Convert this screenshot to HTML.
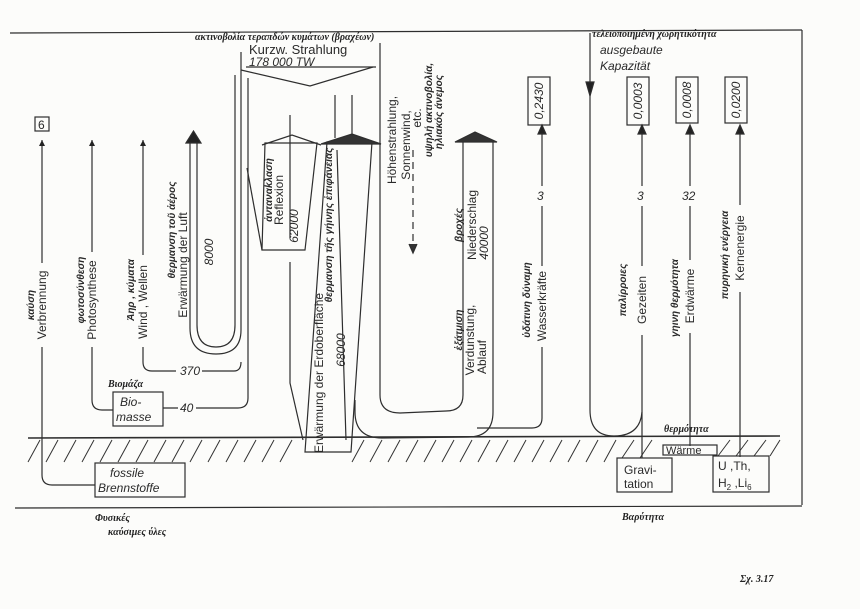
<!DOCTYPE html>
<html><head><meta charset="utf-8"><style>
html,body{margin:0;padding:0;background:#fcfcfa;}
svg{display:block;}
text{font-family:"Liberation Sans",sans-serif;fill:#2a2a2a;}
.g{font-family:"Liberation Serif","DejaVu Serif",serif;font-style:italic;font-weight:bold;font-size:10px;fill:#222;}
.l{font-size:12px;}
</style></head><body>
<svg width="860" height="609" viewBox="0 0 860 609" xmlns="http://www.w3.org/2000/svg">
<defs>
<marker id="a" viewBox="0 0 10 10" refX="5" refY="0" markerWidth="6" markerHeight="10" orient="0" markerUnits="userSpaceOnUse"><path d="M0,10 L5,0 L10,10 Z" fill="#222"/></marker>
</defs>
<g stroke="#2e2e2e" stroke-width="1.2" fill="none">
<line x1="10" y1="33" x2="802" y2="30"/>
<line x1="802" y1="30" x2="802" y2="505"/>
<line x1="15" y1="508" x2="802" y2="506"/>
<line x1="28" y1="438" x2="780" y2="436" stroke-width="1.6"/>
</g>
<g stroke="#333" stroke-width="1">
<path d="M40,440 L28,462 M58,440 L46,462 M76,440 L64,462 M94,440 L82,462 M112,440 L100,462 M130,440 L118,462 M148,440 L136,462 M166,440 L154,462 M184,440 L172,462 M202,440 L190,462 M220,440 L208,462 M238,440 L226,462 M256,440 L244,462 M274,440 L262,462 M292,440 L280,462 M364,440 L352,462 M382,440 L370,462 M400,440 L388,462 M418,440 L406,462 M436,440 L424,462 M454,440 L442,462 M472,440 L460,462 M490,440 L478,462 M508,440 L496,462 M526,440 L514,462 M544,440 L532,462 M562,440 L550,462 M580,440 L568,462 M598,440 L586,462 M616,440 L604,462 M634,440 L622,458 M652,440 L640,458 M730,440 L718,456 M748,440 L736,456 M766,440 L754,456 M780,440 L770,456"/>
</g>
<g stroke="#2e2e2e" stroke-width="1.2" fill="none">
<line x1="42" y1="263" x2="42" y2="140" marker-end="url(#a)"/>
<path d="M42,347 L42,475 Q42,485 52,485 L95,485"/>
<rect x="35" y="117" width="14" height="14"/>
<line x1="92" y1="252" x2="92" y2="140" marker-end="url(#a)"/>
<path d="M92,347 L92,400 Q92,410 102,410 L113,410"/>
<rect x="113" y="392" width="50" height="34"/>
<path d="M163,408 L178,408 M196,408 L238,408 Q248,408 248,398 L248,78"/>
<line x1="143" y1="255" x2="143" y2="140" marker-end="url(#a)"/>
<path d="M143,347 L143,362 Q143,371 152,371 L176,371 M202,371 L234,371 Q241,371 241,362"/>
<path d="M190,140 L190,328 Q190,354 216,354 Q241,354 241,330 L241,52"/>
<path d="M197,140 L197,325 Q197,347 216,347 Q235,347 235,325 L235,75"/>
<path d="M186,143 L193.5,131 L201,143 Z" fill="#222"/>
<path d="M241,70 L310,86 L373,67"/>
<line x1="246" y1="67" x2="376" y2="67"/>
<path d="M265,143 L317,143 L305,250 L262,250 Z"/>
<path d="M262,145 L292,135 L321,145"/>
<path d="M247,168 L262,250"/>
<path d="M290,115 L290,238 M290,262 L290,383 L303,440"/>
<path d="M327,142 L372,142 L351,452 L305,452 Z"/>
<path d="M321,144 L352,134 L381,144 Z" fill="#333"/>
<path d="M335,95 L335,138 M352,95 L352,136 M337,150 L346,440"/>
<path d="M380,43 L380,395 Q380,413 400,413 L446,411 Q463,411 463,395 L463,141"/>
<path d="M355,400 L355,412 Q355,438 382,438 L468,437 Q493,437 493,412 L493,141"/>
<path d="M455,142 L475,132 L497,142 Z" fill="#333"/>
<line x1="413" y1="150" x2="413" y2="246" stroke-dasharray="7,5"/>
<path d="M409,244 L413,253 L417,244" fill="#333"/>
<path d="M477,428 L532,428 Q542,428 542,418 L542,347 M542,266 L542,206 M542,186 L542,130"/>
<path d="M538,134 L542,125 L546,134 Z" fill="#222"/>
<rect x="528" y="77" width="22" height="48"/>
<line x1="590" y1="33" x2="590" y2="410"/>
<path d="M586,82 L590,96 L594,82 Z" fill="#222"/>
<path d="M590,410 Q590,436 614,436 Q640,436 642,412"/>
<path d="M642,458 L642,335 M642,266 L642,206 M642,186 L642,130"/>
<path d="M638,134 L642,125 L646,134 Z" fill="#222"/>
<rect x="627" y="77" width="22" height="48"/>
<rect x="617" y="458" width="55" height="34"/>
<path d="M690,446 L690,333 M690,260 L690,206 M690,186 L690,130"/>
<path d="M686,134 L690,125 L694,134 Z" fill="#222"/>
<rect x="676" y="77" width="22" height="46"/>
<rect x="663" y="445" width="54" height="10"/>
<path d="M740,457 L740,292 M740,205 L740,130"/>
<path d="M736,134 L740,125 L744,134 Z" fill="#222"/>
<rect x="725" y="77" width="22" height="46"/>
<rect x="713" y="456" width="56" height="36"/>
<rect x="95" y="463" width="90" height="34"/>
</g>
<text x="38" y="129" class="l">6</text>
<text x="120" y="406" class="l" font-style="italic">Bio-</text>
<text x="116" y="421" class="l" font-style="italic">masse</text>
<text x="180" y="375" class="l" font-style="italic">370</text>
<text x="180" y="412" class="l" font-style="italic">40</text>
<text x="110" y="477" class="l" font-style="italic">fossile</text>
<text x="98" y="492" class="l" font-style="italic">Brennstoffe</text>
<text x="624" y="474" class="l">Gravi-</text>
<text x="624" y="488" class="l">tation</text>
<text x="666" y="454" font-size="11">Wärme</text>
<text x="718" y="470" class="l">U ,Th,</text>
<text x="718" y="487" class="l">H<tspan font-size="8" dy="3">2</tspan><tspan dy="-3"> ,Li</tspan><tspan font-size="8" dy="3">6</tspan></text>
<text x="249" y="54" font-size="13">Kurzw. Strahlung</text>
<text x="249" y="66" font-size="12" font-style="italic">178 000  TW</text>
<text x="600" y="54" font-size="12" font-style="italic">ausgebaute</text>
<text x="600" y="70" font-size="12" font-style="italic">Kapazität</text>
<text class="g" x="195" y="40">ακτινοβολία τεραπδών κυμάτων (βραχέων)</text>
<text class="g" x="592" y="37">τελειοποιημένη χωρητικότητα</text>
<text class="g" x="108" y="387">Βιομάζα</text>
<text class="g" x="664" y="432">θερμότητα</text>
<text class="g" x="622" y="520">Βαρύτητα</text>
<text class="g" x="95" y="521">Φυσικές</text>
<text class="g" x="108" y="535">καύσιμες ύλες</text>
<text class="g" x="740" y="582" font-size="15">Σχ. 3.17</text>
<g class="l">
<text transform="translate(46,305) rotate(-90)" text-anchor="middle">Verbrennung</text>
<text transform="translate(96,300) rotate(-90)" text-anchor="middle">Photosynthese</text>
<text transform="translate(147,302) rotate(-90)" text-anchor="middle">Wind , Wellen</text>
<text transform="translate(187,265) rotate(-90)" text-anchor="middle">Erwärmung der Luft</text>
<text transform="translate(213,252) rotate(-90)" text-anchor="middle" font-style="italic">8000</text>
<text transform="translate(283,200) rotate(-90)" text-anchor="middle">Reflexion</text>
<text transform="translate(298,226) rotate(-90)" text-anchor="middle" font-style="italic">62000</text>
<text transform="translate(323,373) rotate(-90)" text-anchor="middle">Erwärmung der Erdoberfläche</text>
<text transform="translate(345,350) rotate(-90)" text-anchor="middle" font-style="italic">68000</text>
<text transform="translate(396,140) rotate(-90)" text-anchor="middle">Höhenstrahlung,</text>
<text transform="translate(410,145) rotate(-90)" text-anchor="middle">Sonnenwind,</text>
<text transform="translate(421,118) rotate(-90)" text-anchor="middle">etc.</text>
<text transform="translate(474,340) rotate(-90)" text-anchor="middle">Verdunstung,</text>
<text transform="translate(486,357) rotate(-90)" text-anchor="middle">Ablauf</text>
<text transform="translate(476,225) rotate(-90)" text-anchor="middle">Niederschlag</text>
<text transform="translate(488,243) rotate(-90)" text-anchor="middle" font-style="italic">40000</text>
<text transform="translate(546,306) rotate(-90)" text-anchor="middle">Wasserkräfte</text>
<text transform="translate(646,300) rotate(-90)" text-anchor="middle">Gezeiten</text>
<text transform="translate(694,296) rotate(-90)" text-anchor="middle">Erdwärme</text>
<text transform="translate(744,248) rotate(-90)" text-anchor="middle">Kernenergie</text>
<text transform="translate(543,101) rotate(-90)" text-anchor="middle" font-style="italic">0,2430</text>
<text transform="translate(642,101) rotate(-90)" text-anchor="middle" font-style="italic">0,0003</text>
<text transform="translate(691,100) rotate(-90)" text-anchor="middle" font-style="italic">0,0008</text>
<text transform="translate(740,100) rotate(-90)" text-anchor="middle" font-style="italic">0,0200</text>
</g>
<text x="537" y="200" class="l" font-style="italic">3</text>
<text x="637" y="200" class="l" font-style="italic">3</text>
<text x="682" y="200" class="l" font-style="italic">32</text>
<g class="g">
<text transform="translate(34,305) rotate(-90)" text-anchor="middle">καύση</text>
<text transform="translate(84,290) rotate(-90)" text-anchor="middle">φωτοσύνθεση</text>
<text transform="translate(134,290) rotate(-90)" text-anchor="middle">Άηρ , κύματα</text>
<text transform="translate(175,230) rotate(-90)" text-anchor="middle">θερμανση τοῦ ἀέρος</text>
<text transform="translate(272,190) rotate(-90)" text-anchor="middle">ἀνταναkλαση</text>
<text transform="translate(332,225) rotate(-90)" text-anchor="middle">θερμανση τῆς γήινης ἐπιφάνειας</text>
<text transform="translate(432,110) rotate(-90)" text-anchor="middle">υψηλή ακτινοβολία,</text>
<text transform="translate(442,112) rotate(-90)" text-anchor="middle">ηλιακός άνεμος</text>
<text transform="translate(462,330) rotate(-90)" text-anchor="middle">ἐξάτμιση</text>
<text transform="translate(462,225) rotate(-90)" text-anchor="middle">βροχές</text>
<text transform="translate(530,300) rotate(-90)" text-anchor="middle">ὑδάτινη δύναμη</text>
<text transform="translate(626,290) rotate(-90)" text-anchor="middle">παλίρροιες</text>
<text transform="translate(678,298) rotate(-90)" text-anchor="middle">γηινη θερμότητα</text>
<text transform="translate(728,255) rotate(-90)" text-anchor="middle">πυρηνική ενέργεια</text>
</g>
</svg>
</body></html>
